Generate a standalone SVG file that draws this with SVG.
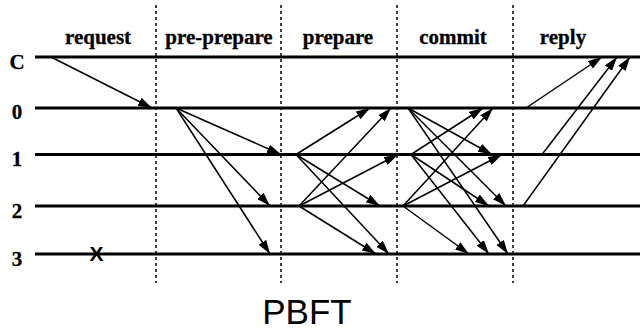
<svg xmlns="http://www.w3.org/2000/svg" width="640" height="332" viewBox="0 0 640 332">
<style>
.lbl{font-family:"Liberation Serif","Times New Roman",serif;font-weight:bold;font-size:21px;fill:#000;stroke:#000;stroke-width:0.3}
.proc{stroke:#000;stroke-width:3}
.phase{stroke:#000;stroke-width:1.5;stroke-dasharray:3 3}
.msg{stroke:#000;stroke-width:1.5;fill:none;marker-end:url(#ah)}
</style>
<defs>
<marker id="ah" viewBox="0 0 14 9" refX="14" refY="4.5" markerWidth="14" markerHeight="9" markerUnits="userSpaceOnUse" orient="auto">
<path d="M0,0 L14,4.5 L0,9 z" fill="#000"/>
</marker>
</defs>
<rect width="640" height="332" fill="#fff"/>
<g id="phases">
<line class="phase" x1="156" y1="5" x2="156" y2="283"/>
<line class="phase" x1="281" y1="5" x2="281" y2="283"/>
<line class="phase" x1="397" y1="5" x2="397" y2="283"/>
<line class="phase" x1="513" y1="5" x2="513" y2="283"/>
<text class="lbl" x="98" y="43.5" text-anchor="middle">request</text>
<text class="lbl" x="219" y="43.5" text-anchor="middle">pre-prepare</text>
<text class="lbl" x="338" y="43.5" text-anchor="middle">prepare</text>
<text class="lbl" x="453" y="43.5" text-anchor="middle">commit</text>
<text class="lbl" x="563" y="43.5" text-anchor="middle">reply</text>
</g>
<g id="client">
<line class="proc" x1="35" y1="57" x2="640" y2="57"/>
<text class="lbl" x="17" y="68.5" text-anchor="middle">C</text>
</g>
<g id="replica0">
<line class="proc" x1="35" y1="108" x2="640" y2="108"/>
<text class="lbl" x="17" y="118.5" text-anchor="middle">0</text>
</g>
<g id="replica1">
<line class="proc" x1="35" y1="154.5" x2="640" y2="154.5"/>
<text class="lbl" x="17" y="166" text-anchor="middle">1</text>
</g>
<g id="replica2">
<line class="proc" x1="35" y1="206" x2="640" y2="206"/>
<text class="lbl" x="17" y="217.5" text-anchor="middle">2</text>
</g>
<g id="replica3">
<line class="proc" x1="35" y1="254" x2="640" y2="254"/>
<text class="lbl" x="17" y="265.5" text-anchor="middle">3</text>
<text x="96.5" y="260.5" text-anchor="middle" font-family="Liberation Sans, Arial, sans-serif" font-weight="bold" font-size="21">X</text>
</g>
<g id="connectors">
<!-- request -->
<line class="msg" x1="51" y1="57" x2="152" y2="108"/>
<!-- pre-prepare -->
<line class="msg" x1="176" y1="108" x2="281" y2="154.5"/>
<line class="msg" x1="176" y1="108" x2="270" y2="206"/>
<line class="msg" x1="176" y1="108" x2="270" y2="254"/>
<!-- prepare -->
<line class="msg" x1="296" y1="154.5" x2="370" y2="108"/>
<line class="msg" x1="296" y1="154.5" x2="380" y2="206"/>
<line class="msg" x1="296" y1="154.5" x2="389" y2="254"/>
<line class="msg" x1="299" y1="206" x2="391" y2="108"/>
<line class="msg" x1="299" y1="206" x2="398" y2="154.5"/>
<line class="msg" x1="299" y1="206" x2="376" y2="254"/>
<!-- commit -->
<line class="msg" x1="408" y1="108" x2="492" y2="154.5"/>
<line class="msg" x1="408" y1="108" x2="506" y2="206"/>
<line class="msg" x1="408" y1="108" x2="508" y2="254"/>
<line class="msg" x1="411" y1="154.5" x2="483" y2="108"/>
<line class="msg" x1="411" y1="154.5" x2="489" y2="206"/>
<line class="msg" x1="411" y1="154.5" x2="489" y2="254"/>
<line class="msg" x1="403" y1="206" x2="493" y2="108"/>
<line class="msg" x1="403" y1="206" x2="502" y2="154.5"/>
<line class="msg" x1="403" y1="206" x2="469" y2="254"/>
<!-- reply -->
<line class="msg" x1="526" y1="108" x2="602" y2="57"/>
<line class="msg" x1="542" y1="154.5" x2="617" y2="57"/>
<line class="msg" x1="523" y1="206" x2="630" y2="57"/>
</g>
<text x="307" y="324" text-anchor="middle" font-family="Liberation Sans, Arial, sans-serif" font-size="35" fill="#000">PBFT</text>
</svg>
